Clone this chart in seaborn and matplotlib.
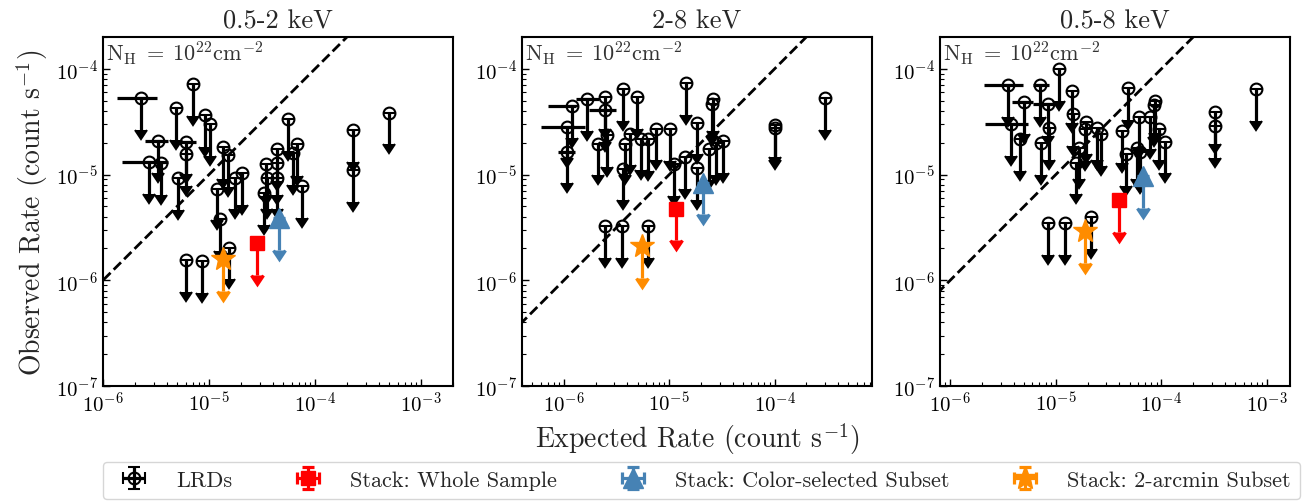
"""
Observed vs expected X-ray count rates of LRDs in three energy bands
"""

import matplotlib
matplotlib.use("Agg")
import matplotlib.pyplot as plt
import seaborn as sns
import numpy as np

# ---------------------------------------------------------------- data
bands = ['0.5-2 keV', '2-8 keV', '0.5-8 keV']

# 0.5-2 keV
x_soft = [2.26e-6, 3.27e-6, 2.69e-6, 3.49e-6, 4.83e-6, 6.0e-6, 6.12e-6, 5.12e-6,
          7.08e-6, 9.1e-6, 1.03e-5, 1.35e-5, 1.51e-5, 1.19e-5, 1.26e-5, 1.54e-5,
          1.77e-5, 2.06e-5, 6.0e-6, 8.6e-6, 3.28e-5, 3.45e-5, 3.5e-5, 4.38e-5,
          4.35e-5, 4.38e-5, 5.56e-5, 6.24e-5, 6.7e-5, 7.52e-5, 2.30e-4, 2.30e-4,
          4.97e-4]
y_soft = [5.32e-5, 2.08e-5, 1.32e-5, 1.29e-5, 4.28e-5, 2.03e-5, 1.57e-5, 9.2e-6,
          7.11e-5, 3.62e-5, 2.98e-5, 1.83e-5, 1.52e-5, 7.36e-6, 3.78e-6, 2.04e-6,
          9.35e-6, 1.03e-5, 1.55e-6, 1.51e-6, 6.65e-6, 1.25e-5, 9.35e-6, 1.73e-5,
          1.29e-5, 9.35e-6, 3.37e-5, 1.61e-5, 1.93e-5, 7.8e-6, 2.64e-5, 1.10e-5,
          3.85e-5]
xerr_idx_soft = [0, 1, 2, 5]
xerr_lo_soft = [0.89e-6, 0.78e-6, 1.17e-6, 1.57e-6]
xerr_hi_soft = [0.94e-6, 0.85e-6, 1.43e-6, 1.60e-6]

# 2-8 keV
x_hard = [1.08e-6, 1.2e-6, 1.06e-6, 1.67e-6, 2.44e-6, 2.46e-6, 2.12e-6, 2.59e-6,
          3.65e-6, 4.99e-6, 3.81e-6, 3.6e-6, 4.21e-6, 5.37e-6, 6.3e-6, 7.46e-6,
          1.01e-5, 1.12e-5, 1.41e-5, 1.44e-5, 1.82e-5, 1.83e-5, 2.62e-5, 2.53e-5,
          2.37e-5, 2.78e-5, 3.22e-5, 1.0e-4, 1.0e-4, 2.99e-4, 2.44e-6, 3.54e-6,
          6.3e-6]
y_hard = [2.84e-5, 4.45e-5, 1.65e-5, 5.14e-5, 5.41e-5, 4.05e-5, 1.96e-5, 2.35e-5,
          6.38e-5, 5.41e-5, 1.96e-5, 1.14e-5, 2.44e-5, 2.19e-5, 2.15e-5, 2.72e-5,
          2.68e-5, 1.25e-5, 1.45e-5, 7.27e-5, 3.1e-5, 1.16e-5, 5.21e-5, 4.61e-5,
          1.76e-5, 2.0e-5, 2.08e-5, 2.94e-5, 2.74e-5, 5.32e-5, 3.28e-6, 3.28e-6,
          3.28e-6]
xerr_idx_hard = [0, 1, 2, 3, 5]
xerr_lo_hard = [0.47e-6, 0.49e-6, 0.18e-6, 0.37e-6, 0.73e-6]
xerr_hi_hard = [0.50e-6, 0.10e-6, 0.21e-6, 0.49e-6, 0.69e-6]

# 0.5-8 keV
x_full = [3.51e-6, 3.77e-6, 5.04e-6, 4.58e-6, 7.12e-6, 8.47e-6, 8.65e-6, 7.22e-6,
          1.06e-5, 1.42e-5, 1.44e-5, 1.66e-5, 1.54e-5, 1.91e-5, 1.89e-5, 2.47e-5,
          2.65e-5, 4.25e-5, 4.8e-5, 4.62e-5, 5.87e-5, 6.09e-5, 6.31e-5, 7.84e-5,
          8.73e-5, 8.43e-5, 9.4e-5, 1.07e-4, 3.25e-4, 3.25e-4, 7.91e-4, 8.47e-6,
          1.22e-5, 2.17e-5]
y_full = [7.01e-5, 2.99e-5, 4.85e-5, 2.15e-5, 7.01e-5, 4.61e-5, 2.77e-5, 2.0e-5,
          1.0e-4, 6.15e-5, 3.71e-5, 1.8e-5, 1.3e-5, 3.14e-5, 2.68e-5, 2.77e-5,
          2.4e-5, 2.58e-5, 6.62e-5, 1.56e-5, 1.8e-5, 3.52e-5, 1.62e-5, 3.52e-5,
          4.96e-5, 4.51e-5, 2.72e-5, 2.05e-5, 3.93e-5, 2.88e-5, 6.38e-5, 3.48e-6,
          3.48e-6, 3.99e-6]
xerr_idx_full = [0, 1, 2, 4, 5]
xerr_lo_full = [1.44e-6, 1.62e-6, 1.2e-6, 1.1e-6, 2.35e-6]
xerr_hi_full = [1.41e-6, 1.73e-6, 1.1e-6, 1.53e-6, 1.2e-6]

# stacks: whole sample, color-selected subset, 2-arcmin subset
stack_labels = ['Stack: Whole Sample', 'Stack: Color-selected Subset', 'Stack: 2-arcmin Subset']
stack_colors = ['red', 'steelblue', 'darkorange']
stack_markers = ['s', '^', '*']
stack_sizes = [10, 14, 18]
stack_x_soft = [2.82e-5, 4.61e-5, 1.35e-5]
stack_y_soft = [2.24e-6, 3.86e-6, 1.58e-6]
stack_x_hard = [1.17e-5, 2.11e-5, 5.5e-6]
stack_y_hard = [4.77e-6, 8.4e-6, 2.1e-6]
stack_x_full = [4.0e-5, 6.64e-5, 1.89e-5]
stack_y_full = [5.77e-6, 9.7e-6, 2.94e-6]

xlims = [(1e-6, 2e-3), (4e-7, 8.4e-4), (8e-7, 1.65e-3)]
ylims = (1e-7, 2e-4)
upper_frac = 0.5  # arrow length as fraction of the upper limit

# ---------------------------------------------------------------- style
sns.set_theme(style="ticks")
plt.rcParams.update({
    'font.family': ['cmr10', 'DejaVu Serif'],
    'mathtext.fontset': 'cm',
    'axes.formatter.use_mathtext': True,
    'axes.linewidth': 1.5,
    'axes.edgecolor': 'black',
    'xtick.direction': 'in',
    'ytick.direction': 'in',
    'xtick.major.size': 5, 'ytick.major.size': 5,
    'xtick.minor.size': 3, 'ytick.minor.size': 3,
    'xtick.major.width': 1.0, 'ytick.major.width': 1.0,
    'xtick.minor.width': 0.8, 'ytick.minor.width': 0.8,
    'xtick.labelsize': 15, 'ytick.labelsize': 15,
    'xtick.color': 'black', 'ytick.color': 'black',
})

fig = plt.figure(figsize=(13.07, 5.02), dpi=100)
W, H = 1307.0, 502.0
lefts = [103, 522, 940]
axes = [fig.add_axes([l / W, 1 - 387 / H, 350 / W, 349 / H]) for l in lefts]

panels = [
    (x_soft, y_soft, xerr_idx_soft, xerr_lo_soft, xerr_hi_soft, stack_x_soft, stack_y_soft),
    (x_hard, y_hard, xerr_idx_hard, xerr_lo_hard, xerr_hi_hard, stack_x_hard, stack_y_hard),
    (x_full, y_full, xerr_idx_full, xerr_lo_full, xerr_hi_full, stack_x_full, stack_y_full),
]

lrd_style = dict(fmt='o', color='black', mfc='none', mec='black', ecolor='black',
                 ms=8.5, mew=1.5, elinewidth=2.3, capsize=4.2, capthick=2.3)
stack_handles = []

for i, (ax, band, pdata) in enumerate(zip(axes, bands, panels)):
    x, y, idx, xlo, xhi, sx, sy = pdata
    x = np.array(x)
    y = np.array(y)

    # 1:1 line
    ref = np.array([1e-9, 1e-1])
    ax.plot(ref, ref, ls='--', color='black', lw=2, zorder=1)

    # horizontal error bars (no caps)
    idx = np.array(idx)
    ax.errorbar(x[idx], y[idx], xerr=[xlo, xhi], fmt='none', ecolor='black',
                elinewidth=2.3, capsize=0, zorder=2)

    # LRD upper limits
    ax.errorbar(x, y, yerr=upper_frac * y, uplims=True, zorder=2, **lrd_style)

    # stacks
    for j in range(3):
        h = ax.errorbar([sx[j]], [sy[j]], xerr=[0], yerr=[upper_frac * sy[j]], uplims=True,
                        fmt=stack_markers[j], color=stack_colors[j], ms=stack_sizes[j],
                        elinewidth=2.3, capsize=4.2, capthick=2.3, zorder=3)
        if i == 0:
            stack_handles.append(h)

    ax.set_xscale('log')
    ax.set_yscale('log')
    ax.set_xlim(*xlims[i])
    ax.set_ylim(*ylims)
    ax.set_title(band, fontsize=19, pad=7)
    ax.tick_params(which='both', top=False, right=False)
    ax.text(0.008, 0.995, r'$\mathrm{N_H}\;=\;\mathrm{10^{22}cm^{-2}}$', transform=ax.transAxes,
            ha='left', va='top', fontsize=16, color='0.2')

axes[0].set_ylabel(r'Observed Rate (count s$^{-1}$)', fontsize=20)
axes[1].set_xlabel(r'Expected Rate (count s$^{-1}$)', fontsize=20)

# legend handle for LRDs (shows both error bars)
lrd_handle = axes[0].errorbar([np.nan], [np.nan], xerr=[np.nan], yerr=[np.nan], **lrd_style)

fig.legend([lrd_handle] + stack_handles, ['LRDs'] + stack_labels,
           loc='lower left', bbox_to_anchor=(103 / W, 2 / H, 1197 / W, 0.07),
           mode='expand', ncol=4, fontsize=16, frameon=True, fancybox=True,
           edgecolor='0.8', borderaxespad=0, handletextpad=0.9)

fig.savefig('out.png', dpi=100)
plt.close(fig)
